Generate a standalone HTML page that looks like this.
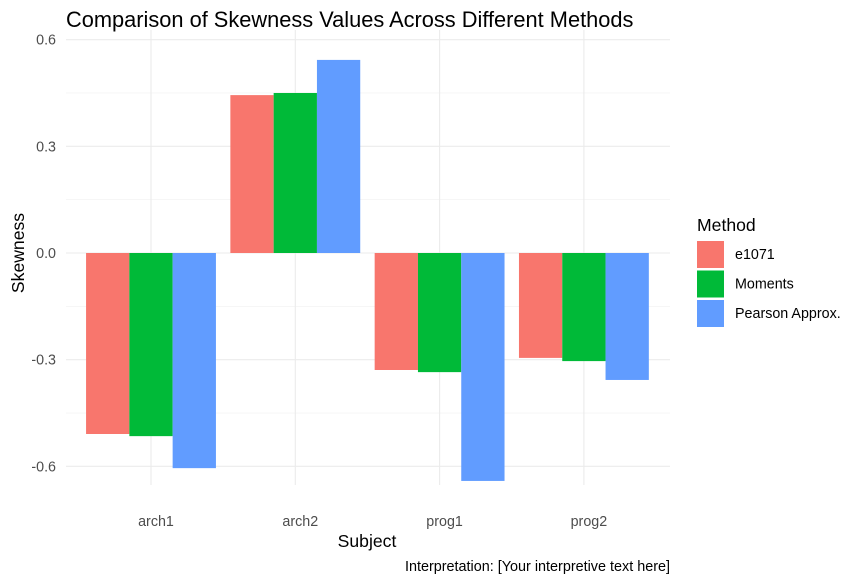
<!DOCTYPE html>
<html><head><meta charset="utf-8"><style>
body{margin:0;background:#fff;font-family:"Liberation Sans",Arial,sans-serif}
</style></head><body>
<svg id="chart" width="862" height="583" xmlns="http://www.w3.org/2000/svg">
<rect width="862" height="583" fill="#fff"/>
<text x="66" y="27" font-size="21.8" fill="#000">Comparison of Skewness Values Across Different Methods</text>
<g id="grid"></g>
<g id="bars"></g>
<g id="axes"></g>
<text x="367" y="547" font-size="17.6" text-anchor="middle" fill="#000">Subject</text>
<text transform="translate(24,253) rotate(-90)" font-size="17.6" text-anchor="middle" fill="#000">Skewness</text>
<text x="670" y="571" font-size="14.4" text-anchor="end" fill="#000">Interpretation: [Your interpretive text here]</text>
<g id="legend">
<text x="697" y="231" font-size="17.6" fill="#000">Method</text>
</g>
</svg>
<script>
const categories=["arch1","arch2","prog1","prog2"];
const methods=["e1071","Moments","Pearson Approx."];
const colors=["#F8766D","#00BA38","#619CFF"];
const e1071=[-0.509,0.444,-0.329,-0.295];
const moments=[-0.515,0.450,-0.335,-0.304];
const pearson=[-0.605,0.543,-0.641,-0.357];
const yTicks=[-0.6,-0.3,0.0,0.3,0.6];
const yTickLabels=["-0.6","-0.3","0.0","0.3","0.6"];
const series=[e1071,moments,pearson];
const NS="http://www.w3.org/2000/svg";
const y=v=>253-v*355.6;
const step=144.3,x0=151;
const x=i=>x0+i*step;
const L=66,R=670,T=30,B=485;
function mk(t,a,p){const e=document.createElementNS(NS,t);for(const k in a)e.setAttribute(k,a[k]);p.appendChild(e);return e;}
const grid=document.getElementById('grid'),bars=document.getElementById('bars'),axes=document.getElementById('axes'),leg=document.getElementById('legend');
for(let i=0;i<yTicks.length-1;i++){const m=(yTicks[i]+yTicks[i+1])/2;
 const g=mk('line',{x1:L,x2:R,y1:y(m),y2:y(m),stroke:'#f0f0f0','stroke-width':0.6},grid);
 
 }
yTicks.forEach((t,i)=>{
 const g=mk('line',{x1:L,x2:R,y1:y(t),y2:y(t),stroke:'#ebebeb','stroke-width':1.1},grid);
 
 
 const l=mk('text',{x:56,y:y(t)+5,'font-size':14.3,'text-anchor':'end',fill:'#4d4d4d'},axes);l.textContent=yTickLabels[i];
 
 
});
categories.forEach((c,i)=>{
 const g=mk('line',{x1:x(i),x2:x(i),y1:T,y2:B,stroke:'#ebebeb','stroke-width':1.1},grid);
 
 
 const l=mk('text',{x:x(i)+5,y:526,'font-size':14.3,'text-anchor':'middle',fill:'#4d4d4d'},axes);l.textContent=c;
 
 
 const bw=step*0.9/3;
 series.forEach((s,j)=>{const v=s[i];
  const r=mk('rect',{x:x(i)-step*0.45+j*bw,y:Math.min(y(v),y(0)),width:bw,height:Math.abs(y(v)-y(0)),fill:colors[j]},bars);
  
  
 });
});
methods.forEach((m,j)=>{
 const r=mk('rect',{x:697,y:241+j*29.5,width:27,height:27,fill:colors[j]},leg);
 
 
 const t=mk('text',{x:735,y:259+j*29.5,'font-size':14.3,fill:'#000'},leg);t.textContent=m;
 
 
});
</script>
</body></html>
